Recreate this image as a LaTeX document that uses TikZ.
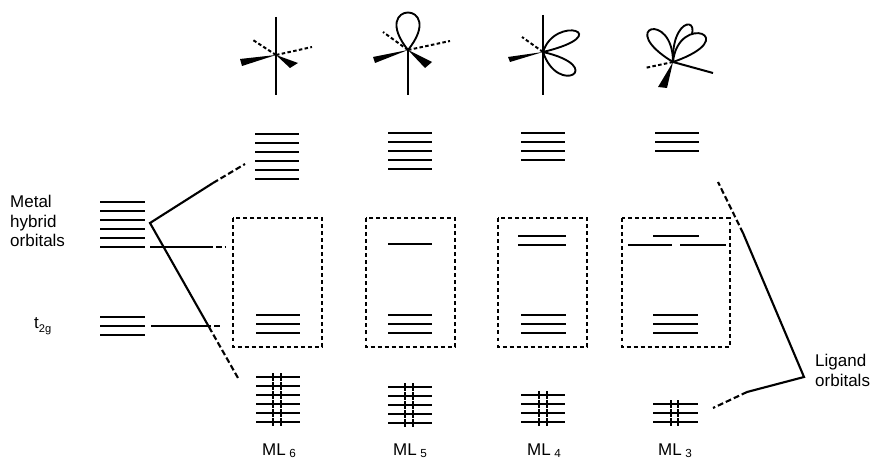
\documentclass[tikz,border=0pt]{standalone}
\usepackage{fontspec}
\setmainfont{Liberation Sans}

% a stack of n degenerate levels, 9 units apart
\newcommand{\levelset}[4]{% x1, x2, top y, count
  \foreach \k in {1,...,#4}
    \draw[level] (#1,{#3+9*(\k-1)}) -- (#2,{#3+9*(\k-1)});}
% the same, each level holding an electron pair
\newcommand{\pairset}[6]{% x1, x2, top y, count, spin x, spin x
  \foreach \k in {1,...,#4}{
    \draw[level] (#1,{#3+9*(\k-1)}) -- (#2,{#3+9*(\k-1)});
    \draw[spin] (#5,{#3+9*(\k-1)-3.6}) -- (#5,{#3+9*(\k-1)+3.6});
    \draw[spin] (#6,{#3+9*(\k-1)-3.6}) -- (#6,{#3+9*(\k-1)+3.6});}}

\begin{document}
\begin{tikzpicture}[x=0.03cm, y=-0.03cm,
    level/.style={line width=2.5pt},
    spin/.style={line width=1.7pt},
    corr/.style={line width=1.8pt},
    corrdash/.style={line width=1.8pt, dash pattern=on 5pt off 2.5pt},
    frame/.style={line width=1.3pt, dash pattern=on 3.4pt off 2.6pt},
    bond/.style={line width=1.7pt},
    hashbond/.style={line width=1.7pt, dash pattern=on 3pt off 2pt},
    lobe/.style={line width=1.6pt},
    lbl/.style={font=\fontsize{14.5}{16.8}\selectfont, align=left, inner sep=0pt}]

\useasboundingbox (0,0) rectangle (871,459);

% metal fragment
\node[lbl, anchor=north west] (hyblbl) at (10,195) {Metal\\hybrid\\orbitals};
\node[lbl, anchor=base west] (t2glbl) at (34,329) {t\raisebox{-3pt}{\fontsize{9.5}{9.5}\selectfont 2g}};
\levelset{100}{145}{202}{6}
\levelset{100}{145}{317}{3}

% ML6
\levelset{255}{299}{134}{6}
\levelset{256}{300}{315}{3}
\pairset{256}{300}{377}{6}{273}{281}
\draw[frame] (233,218) rectangle (322,347);

% ML5
\levelset{388}{432}{133}{5}
\draw[level] (388,244) -- (432,244);
\levelset{388}{432}{315}{3}
\pairset{388}{432}{387}{5}{405}{413}
\draw[frame] (366,218) rectangle (455,347);

% ML4
\levelset{521}{565}{133}{4}
\levelset{518}{566}{236}{2}
\levelset{521}{566}{315}{3}
\pairset{521}{565}{395}{4}{539}{547}
\draw[frame] (498,218) rectangle (587,347);

% ML3
\levelset{655}{699}{133}{3}
\draw[level] (653,236) -- (699,236);
\draw[level] (628,245) -- (672,245);
\draw[level] (680,245) -- (726,245);
\levelset{653}{698}{315}{3}
\pairset{653}{698}{404}{3}{671}{678}
\draw[frame] (622,218) rectangle (730,347);

% correlation lines, metal side
\coordinate (hyb) at (150,223);
\coordinate (upA) at (213,183);
\coordinate (upB) at (245,164);
\coordinate (loA) at (209,327);
\coordinate (loB) at (238,378);
\coordinate (hybL) at (150,247);
\coordinate (hybA) at (207,247);
\coordinate (hybB) at (225,247);
\coordinate (t2gL) at (151,326);
\coordinate (t2gA) at (205,326);
\coordinate (t2gB) at (221,326);
\draw[corr] (upA) -- (hyb) -- (loA);
\draw[corrdash] (upA) -- (upB);
\draw[corrdash] (loA) -- (loB);
\draw[corr] (hybL) -- (hybA);
\draw[corrdash] (hybA) -- (hybB);
\draw[corr] (t2gL) -- (t2gA);
\draw[corrdash] (t2gA) -- (t2gB);

% correlation lines, ligand side
\node[lbl, anchor=north west] (liglbl) at (815,354) {Ligand\\orbitals};
\coordinate (lig) at (804,377);
\coordinate (rtA) at (743,233);
\coordinate (rtB) at (718,182);
\coordinate (rbA) at (747,392);
\coordinate (rbB) at (713,408);
\draw[corr] (rtA) -- (lig) -- (rbA);
\draw[corrdash] (rtA) -- (rtB);
\draw[corrdash] (rbA) -- (rbB);

% fragment sketches
\begin{scope}[shift={(276,55)}]
  \draw[hashbond] (0,0) -- (-23,-15);
  \draw[hashbond] (0,0) -- (36,-8);
  \draw[bond] (0,-38) -- (0,40);
  \fill (0,0) -- (-36,4) -- (-34,11) -- cycle;
  \fill (0,0) -- (22,8) -- (14,13) -- cycle;
\end{scope}

\begin{scope}[shift={(408,50)}]
  \draw[hashbond] (0,0) -- (-25,-18);
  \draw[hashbond] (0,0) -- (42,-9);
  \draw[lobe] (0,0) .. controls (-40,-50) and (40,-50) .. (0,0);
  \draw[bond] (0,0) -- (0,45);
  \fill (0,0) -- (-35,7) -- (-33,13) -- cycle;
  \fill (0,0) -- (24,12) -- (17,18) -- cycle;
\end{scope}

\begin{scope}[shift={(543,52)}]
  \draw[hashbond] (0,0) -- (-21,-15);
  \draw[bond] (0,-37) -- (0,43);
  \draw[lobe] (0,0) .. controls (12,-38) and (75,-18) .. (0,0);
  \draw[lobe] (0,0) .. controls (65,15) and (15,45) .. (0,0);
  \fill (0,0) -- (-35,5) -- (-33,10) -- cycle;
\end{scope}

\begin{scope}[shift={(673,62)}]
  \draw[hashbond] (0,0) -- (-28,6);
  \draw[bond] (0,0) -- (40,11);
  \draw[lobe] (0,0) .. controls (-2,-55) and (45,-45) .. (0,0);
  \draw[lobe, fill=white] (0,0) .. controls (5,-50) and (72,-25) .. (0,0);
  \draw[lobe] (0,0) .. controls (-58,-35) and (0,-52) .. (0,0);
  \fill (0,0) -- (-15,25) -- (-6,26) -- cycle;
\end{scope}

% complex labels
\node[lbl, anchor=base west] (ml6) at (262,455) {ML\hspace{3pt}\raisebox{-2pt}{\fontsize{10}{10}\selectfont 6}};
\node[lbl, anchor=base west] (ml5) at (393,455) {ML\hspace{3pt}\raisebox{-2pt}{\fontsize{10}{10}\selectfont 5}};
\node[lbl, anchor=base west] (ml4) at (527,455) {ML\hspace{3pt}\raisebox{-2pt}{\fontsize{10}{10}\selectfont 4}};
\node[lbl, anchor=base west] (ml3) at (658,455) {ML\hspace{3pt}\raisebox{-2pt}{\fontsize{10}{10}\selectfont 3}};
\end{tikzpicture}
\end{document}
